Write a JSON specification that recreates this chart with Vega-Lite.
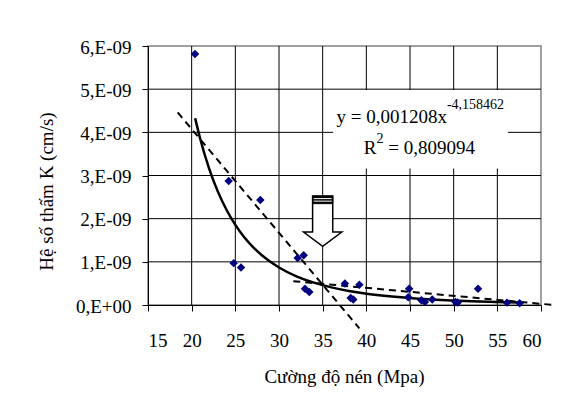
{
  "$schema": "https://vega.github.io/schema/vega-lite/v6.json",
  "width": 393,
  "height": 259,
  "autosize": {"type": "none"},
  "padding": {"left": 148, "top": 46, "right": 20, "bottom": 89},
  "background": "white",
  "config": {
    "view": {"stroke": "#808080", "strokeWidth": 1.5},
    "axis": {
      "grid": false,
      "domainColor": "#000000",
      "tickColor": "#000000",
      "labelFont": "Liberation Serif",
      "labelFontSize": 19,
      "labelColor": "#000000",
      "titleFont": "Liberation Serif",
      "titleFontSize": 19,
      "titleFontWeight": "normal",
      "titleColor": "#000000",
      "tickSize": 6
    }
  },
  "datasets": {
    "points": [
      {"strength": 20.38, "k": 5.815e-9},
      {"strength": 24.24, "k": 2.87e-9},
      {"strength": 27.86, "k": 2.43e-9},
      {"strength": 24.81, "k": 0.97e-9},
      {"strength": 25.65, "k": 0.87e-9},
      {"strength": 32.14, "k": 1.09e-9},
      {"strength": 32.83, "k": 1.15e-9},
      {"strength": 32.98, "k": 0.375e-9},
      {"strength": 33.47, "k": 0.30e-9},
      {"strength": 37.54, "k": 0.50e-9},
      {"strength": 38.2, "k": 0.16e-9},
      {"strength": 38.5, "k": 0.125e-9},
      {"strength": 39.2, "k": 0.47e-9},
      {"strength": 44.9, "k": 0.375e-9},
      {"strength": 44.8, "k": 0.18e-9},
      {"strength": 46.3, "k": 0.11e-9},
      {"strength": 46.7, "k": 0.07e-9},
      {"strength": 47.55, "k": 0.127e-9},
      {"strength": 50.2, "k": 0.07e-9},
      {"strength": 50.46, "k": 0.06e-9},
      {"strength": 52.79, "k": 0.375e-9},
      {"strength": 56.1, "k": 0.055e-9},
      {"strength": 57.55, "k": 0.04e-9}
    ],
    "trend": [
      {"strength": 20.4, "k": 4.325e-9},
      {"strength": 21, "k": 3.834e-9},
      {"strength": 22, "k": 3.160e-9},
      {"strength": 23, "k": 2.6265e-9},
      {"strength": 24, "k": 2.2005e-9},
      {"strength": 25, "k": 1.8568e-9},
      {"strength": 26, "k": 1.5773e-9},
      {"strength": 27, "k": 1.3484e-9},
      {"strength": 28, "k": 1.1589e-9},
      {"strength": 30, "k": 0.8699e-9},
      {"strength": 32, "k": 0.6652e-9},
      {"strength": 34, "k": 0.5170e-9},
      {"strength": 36, "k": 0.4076e-9},
      {"strength": 38, "k": 0.3255e-9},
      {"strength": 40, "k": 0.2630e-9},
      {"strength": 42, "k": 0.2147e-9},
      {"strength": 44, "k": 0.1769e-9},
      {"strength": 46, "k": 0.1471e-9},
      {"strength": 48, "k": 0.1232e-9},
      {"strength": 50, "k": 0.1040e-9},
      {"strength": 52, "k": 0.0883e-9},
      {"strength": 54, "k": 0.0755e-9},
      {"strength": 56, "k": 0.0649e-9},
      {"strength": 57.6, "k": 0.0577e-9}
    ],
    "guides": [
      {"line": "steep", "strength": 18.4, "k": 4.46e-9},
      {"line": "steep", "strength": 39.2, "k": -0.54e-9},
      {"line": "flat", "strength": 31.64, "k": 0.552e-9},
      {"line": "flat", "strength": 61.2, "k": 0.005e-9}
    ],
    "xgrid": [
      {"strength": 20}, {"strength": 25}, {"strength": 30}, {"strength": 35},
      {"strength": 40}, {"strength": 45}, {"strength": 50}, {"strength": 55}
    ],
    "ygrid": [
      {"k": 1e-9}, {"k": 2e-9}, {"k": 3e-9}, {"k": 4e-9}, {"k": 5e-9}
    ]
  },
  "layer": [
    {
      "data": {"name": "xgrid"},
      "mark": {"type": "rule", "color": "#000000", "strokeWidth": 1},
      "encoding": {
        "x": {"field": "strength", "type": "quantitative", "scale": {"domain": [15, 60], "nice": false, "zero": false},
          "axis": {
            "values": [15, 20, 25, 30, 35, 40, 45, 50, 55, 60],
            "grid": false,
            "title": "Cường độ nén (Mpa)",
            "labelBaseline": "alphabetic",
            "labelPadding": 35,
            "titleX": 196,
            "titleY": 77,
            "titleBaseline": "alphabetic",
            "titleAlign": "center"
          }}
      }
    },
    {
      "data": {"name": "ygrid"},
      "mark": {"type": "rule", "color": "#000000", "strokeWidth": 1},
      "encoding": {
        "y": {"field": "k", "type": "quantitative", "scale": {"domain": [0, 6e-9], "nice": false, "zero": false},
          "axis": {
            "values": [0, 1e-9, 2e-9, 3e-9, 4e-9, 5e-9, 6e-9],
            "grid": false,
            "title": "Hệ số thấm K  (cm/s)",
            "labelExpr": "datum.value == 0 ? '0,E+00' : round(datum.value * 1e9) + ',E-09'",
            "labelPadding": 11,
            "labelBaseline": "middle",
            "labelOffset": 1,
            "titleX": -102,
            "titleY": 145,
            "titleBaseline": "middle",
            "titleAlign": "center",
            "titleAngle": -90
          }}
      }
    },
    {
      "data": {"values": [{"item": "equation box"}]},
      "mark": {"type": "rect", "fill": "white", "stroke": null},
      "encoding": {
        "x": {"datum": 36.2, "type": "quantitative"},
        "x2": {"datum": 56.2},
        "y": {"datum": 4.98e-9, "type": "quantitative"},
        "y2": {"datum": 3.16e-9}
      }
    },
    {
      "data": {"name": "trend"},
      "mark": {"type": "line", "color": "black", "strokeWidth": 2.5, "interpolate": "monotone"},
      "encoding": {
        "x": {"field": "strength", "type": "quantitative"},
        "y": {"field": "k", "type": "quantitative"}
      }
    },
    {
      "data": {"name": "guides"},
      "mark": {"type": "line", "color": "black", "strokeWidth": 2, "strokeDash": [7, 5]},
      "encoding": {
        "x": {"field": "strength", "type": "quantitative"},
        "y": {"field": "k", "type": "quantitative"},
        "detail": {"field": "line"}
      }
    },
    {
      "data": {"name": "points"},
      "mark": {"type": "point", "shape": "diamond", "filled": true, "color": "#000080", "size": 72, "opacity": 1},
      "encoding": {
        "x": {"field": "strength", "type": "quantitative"},
        "y": {"field": "k", "type": "quantitative"}
      }
    },
    {
      "data": {"values": [{"item": "arrow"}]},
      "mark": {"type": "point", "shape": "M-0.4,-1 L0.4,-1 L0.4,0.43 L0.76,0.43 L0,1 L-0.76,0.43 L-0.4,0.43 Z", "filled": true, "fill": "white", "stroke": "black", "strokeWidth": 1.5, "size": 2530, "opacity": 1},
      "encoding": {
        "x": {"datum": 35},
        "y": {"datum": 1.94e-9}
      }
    },
    {
      "data": {"values": [{"item": "arrow band"}]},
      "mark": {"type": "point", "shape": "M-0.4,-1 L0.4,-1 L0.4,-0.7 L-0.4,-0.7 Z", "filled": true, "fill": "black", "stroke": "black", "strokeWidth": 1, "size": 2530, "opacity": 1},
      "encoding": {
        "x": {"datum": 35},
        "y": {"datum": 1.94e-9}
      }
    },
    {
      "data": {"values": [{"item": "arrow band lines"}]},
      "mark": {"type": "point", "shape": "M-0.36,-0.9 L0.36,-0.9 M-0.36,-0.8 L0.36,-0.8", "filled": false, "stroke": "white", "strokeWidth": 1, "size": 2530, "opacity": 1},
      "encoding": {
        "x": {"datum": 35},
        "y": {"datum": 1.94e-9}
      }
    },
    {
      "data": {"values": [{"item": "eq"}]},
      "mark": {"type": "text", "text": "y = 0,001208x", "font": "Liberation Serif", "fontSize": 19, "align": "right", "baseline": "alphabetic", "color": "black"},
      "encoding": {"x": {"datum": 49.23}, "y": {"datum": 4.224e-9}}
    },
    {
      "data": {"values": [{"item": "exp"}]},
      "mark": {"type": "text", "text": "-4,158462", "font": "Liberation Serif", "fontSize": 14, "align": "left", "baseline": "alphabetic", "color": "black"},
      "encoding": {"x": {"datum": 49.23}, "y": {"datum": 4.549e-9}}
    },
    {
      "data": {"values": [{"item": "R"}]},
      "mark": {"type": "text", "text": "R", "font": "Liberation Serif", "fontSize": 19, "align": "right", "baseline": "alphabetic", "color": "black"},
      "encoding": {"x": {"datum": 41.17}, "y": {"datum": 3.49e-9}}
    },
    {
      "data": {"values": [{"item": "R2 sup"}]},
      "mark": {"type": "text", "text": "2", "font": "Liberation Serif", "fontSize": 14, "align": "left", "baseline": "alphabetic", "color": "black"},
      "encoding": {"x": {"datum": 41.17}, "y": {"datum": 3.745e-9}}
    },
    {
      "data": {"values": [{"item": "R2 value"}]},
      "mark": {"type": "text", "text": "= 0,809094", "font": "Liberation Serif", "fontSize": 19, "align": "left", "baseline": "alphabetic", "color": "black"},
      "encoding": {"x": {"datum": 42.5}, "y": {"datum": 3.49e-9}}
    }
  ]
}
